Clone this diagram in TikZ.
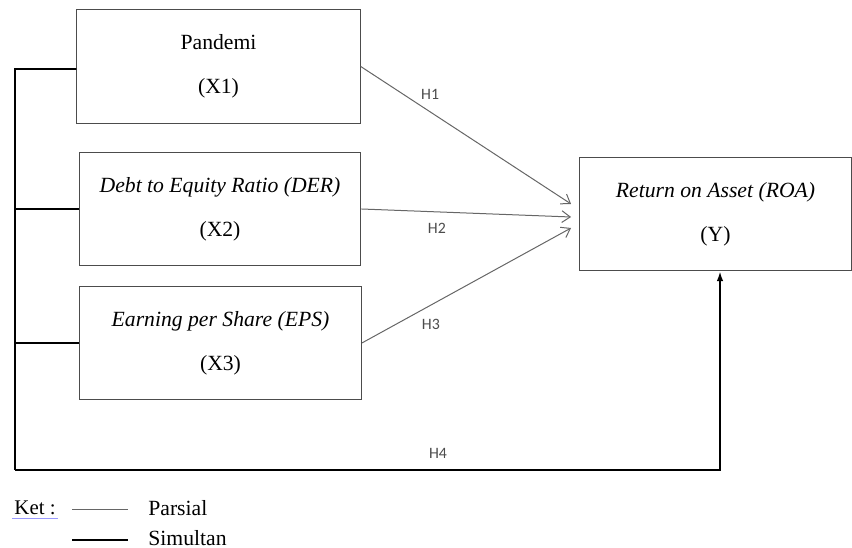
\documentclass[tikz,border=0pt]{standalone}
\usepackage{fontspec}
\setmainfont{Liberation Serif}
\newfontfamily\hfont{Carlito}
\usepackage{tikz}
\usetikzlibrary{arrows.meta,positioning}

\begin{document}
\begin{tikzpicture}[
    x=0.6pt, y=-0.6pt,
    var/.style={rectangle, draw=black!70, line width=0.7pt, align=center, font=\fontsize{13}{15.5}\selectfont, minimum height=68pt},
    parsial/.style={draw=black!60, line width=0.6pt},
    simultan/.style={draw=black, line width=1.1pt},
    hlab/.style={font=\hfont\fontsize{9.5}{11}\selectfont, text=black!70},
    arr/.style={-{Straight Barb[length=5pt,width=7pt]}},
    leg/.style={font=\fontsize{13}{15}\selectfont, anchor=west, inner sep=0pt}
]
\useasboundingbox (0,0) rectangle (852,548);

\node[var, minimum width=170pt] (x1) at (218.5,66.5) {Pandemi\\[11pt](X1)};
\node[var, minimum width=169pt] (x2) at (220,209) {\textit{Debt to Equity Ratio (DER)}\\[11pt](X2)};
\node[var, minimum width=169pt] (x3) at (220.5,343) {\textit{Earning per Share (EPS)}\\[11pt](X3)};
\node[var, minimum width=163pt] (y) at (715.5,214) {\textit{Return on Asset (ROA)}\\[11pt](Y)};

% partial paths
\draw[parsial, arr] (x1.east) -- ([xshift=-4.8pt,yshift=6pt]y.west) node[hlab, pos=0.33, above=4pt] {H1};
\draw[parsial, arr] (x2.east) -- ([xshift=-4.8pt,yshift=-1.8pt]y.west) node[hlab, pos=0.36, below=3pt] {H2};
\draw[parsial, arr] (x3.east) -- ([xshift=-4.8pt,yshift=-8.4pt]y.west) node[hlab, pos=0.33, below=5pt] {H3};

% simultaneous path
\coordinate (bt) at (15,69);
\coordinate (bb) at (15,470);
\draw[simultan] ([yshift=-1.5pt]x1.west) -- (bt) -- (bb);
\draw[simultan] (x2.west) -- (x2.west -| bb);
\draw[simultan] (x3.west) -- (x3.west -| bb);
\draw[simultan, -{Latex[length=6pt,width=4pt]}] (bb) -| ([xshift=2.7pt]y.south) node[hlab, pos=0.3, above=3pt] {H4};

% legend
\node[font=\fontsize{12.5}{15}\selectfont, inner sep=1pt] (ket) at (35,508) {Ket :};
\draw[blue!40, line width=0.8pt] ([yshift=-1pt]ket.south west) -- ([yshift=-1pt]ket.south east);
\coordinate (p1) at (72,510);
\coordinate (p2) at (128,510);
\coordinate (s1) at (72,540);
\coordinate (s2) at (128,540);
\draw[parsial] (p1) -- (p2);
\draw[simultan] (s1) -- (s2);
\node[leg] (par) at (148,508) {Parsial};
\node[leg] (sim) at (148,538) {Simultan};
\end{tikzpicture}
\end{document}
